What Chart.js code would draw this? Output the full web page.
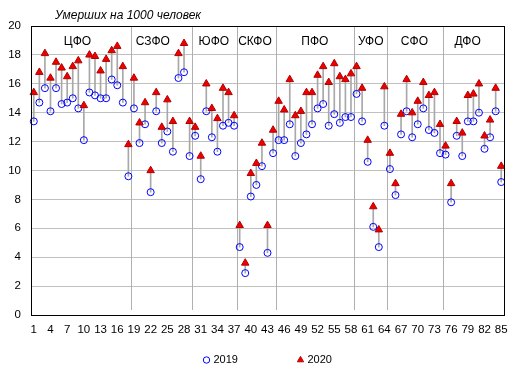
<!DOCTYPE html>
<html>
<head>
<meta charset="utf-8">
<script src="https://cdn.jsdelivr.net/npm/chart.js@4/dist/chart.umd.min.js"></script>
<style>
  html, body { margin: 0; padding: 0; background: #fff; }
</style>
</head>
<body>
<canvas id="myChart" width="519" height="376"></canvas>
<script>
'use strict';

// region numbers along the x axis (1..85)
const regions = Array.from({ length: 85 }, (_, i) => String(i + 1));

// deaths per 1000 people
const deaths2019 = [
  13.4, 14.7, 15.7, 14.1, 15.7, 14.6, 14.7, 15.0, 14.3, 12.1, 15.4, 15.2, 15.0, 15.0, 16.3, 15.9, 14.7, 9.6,
  14.3, 11.9, 13.2, 8.5, 14.1, 11.9, 12.7, 11.3, 16.4, 16.8, 11.0,
  12.4, 9.4, 14.1, 12.3, 11.3, 13.1, 13.3, 13.1,
  4.7, 2.9, 8.2, 9.0, 10.3, 4.3, 11.2,
  12.1, 12.1, 13.2, 11.0, 11.9, 12.5, 13.2, 14.3, 14.6, 13.1, 13.9, 13.3, 13.7, 13.7,
  15.3, 13.4, 10.6, 6.1, 4.7, 13.1,
  10.1, 8.3, 12.5, 14.1, 12.3, 13.2, 14.3, 12.8, 12.6, 11.2,
  11.1, 7.8, 12.4, 11.0, 13.4, 13.4, 14.0, 11.5, 12.3, 14.1, 9.2
];

const deaths2020 = [
  15.4, 16.8, 18.1, 16.4, 17.5, 17.1, 16.5, 17.2, 17.6, 14.5, 18.0, 17.9, 16.9, 17.7, 18.3, 18.6, 17.2, 11.8,
  16.4, 13.3, 14.7, 10.0, 15.4, 13.0, 14.9, 13.4, 18.1, 18.8, 13.4,
  13.0, 11.0, 16.0, 14.3, 13.6, 15.7, 15.4, 13.8,
  6.2, 3.6, 9.8, 10.5, 11.9, 6.2, 12.8,
  14.8, 14.2, 16.3, 13.8, 14.1, 15.4, 15.4, 16.6, 17.2, 16.1, 17.4, 16.5, 16.3, 16.7,
  17.2, 15.7, 12.1, 7.5, 5.9, 15.8,
  11.2, 9.1, 13.9, 16.3, 14.0, 14.8, 16.1, 15.2, 15.4, 13.2,
  11.7, 9.1, 13.4, 12.6, 15.2, 15.3, 16.0, 12.4, 13.5, 15.7, 10.3
];

// federal districts, in region order
const districtNames = ['ЦФО', 'СЗФО', 'ЮФО', 'СКФО', 'ПФО', 'УФО', 'СФО', 'ДФО'];
const districtSizes = [18, 11, 8, 7, 14, 6, 10, 11];

const seriesNames = ['2019', '2020'];
const yMin = 0;
const yMax = 20;
const yStep = 2;

const chartTitle = 'Умерших на 1000 человек';
const chartFont = 'Arial, "Liberation Sans", sans-serif';

// vertical district separators + district names
const districtPlugin = {
  id: 'districts',
  beforeDatasetsDraw(chart, args, opts) {
    const { ctx, chartArea: area, scales: { x } } = chart;
    ctx.save();
    ctx.strokeStyle = opts.lineColor;
    ctx.lineWidth = 1;
    ctx.fillStyle = '#000';
    ctx.font = '12px ' + chartFont;
    ctx.textAlign = 'center';
    ctx.textBaseline = 'middle';
    let start = 0;
    districtSizes.forEach((size, i) => {
      if (start > 0) {
        const px = Math.round((x.getPixelForValue(start - 1) + x.getPixelForValue(start)) / 2) + 0.5;
        ctx.beginPath();
        ctx.moveTo(px, area.top);
        ctx.lineTo(px, area.bottom - 5);
        ctx.stroke();
      }
      // label anchor is an index inside the district
      ctx.fillText(districtNames[i], x.getPixelForValue(opts.labelAt[i]), area.top + 16);
      start += size;
    });
    ctx.restore();
  },
  afterDraw(chart) {
    const { ctx, chartArea: area } = chart;
    ctx.save();
    // black frame round the plot
    ctx.strokeStyle = '#000';
    ctx.lineWidth = 1;
    ctx.strokeRect(Math.round(area.left) + 0.5, Math.round(area.top) + 0.5,
      Math.round(area.right - area.left), Math.round(area.bottom - area.top));

    // title
    ctx.fillStyle = '#000';
    ctx.font = 'italic 12px ' + chartFont;
    ctx.textAlign = 'left';
    ctx.textBaseline = 'middle';
    ctx.fillText(chartTitle, area.left + 24, 16);

    // legend
    const cx = (area.left + area.right) / 2;
    const items = [
      { ds: chart.data.datasets[1], x: cx - 61 },
      { ds: chart.data.datasets[2], x: cx + 33 }
    ];
    const ly = 360;
    ctx.font = '11px ' + chartFont;
    items.forEach(item => {
      ctx.fillStyle = item.ds.backgroundColor;
      ctx.strokeStyle = item.ds.borderColor;
      ctx.lineWidth = 1;
      Chart.helpers.drawPoint(ctx, {
        pointStyle: item.ds.pointStyle,
        radius: item.ds.pointStyle === 'triangle' ? 3.6 : 3.2,
        borderWidth: 1,
        rotation: 0
      }, item.x, ly);
      ctx.fillStyle = '#000';
      ctx.fillText(item.ds.label, item.x + 7, ly);
    });
    ctx.restore();
  }
};

const ctx = document.getElementById('myChart');
const myChart = new Chart(ctx, {
  type: 'bar',
  data: {
    labels: regions,
    datasets: [
      {
        // grey drop lines between the two years
        type: 'bar',
        label: 'diff',
        data: deaths2019.map((v, i) => [v, deaths2020[i]]),
        backgroundColor: '#a8a8a8',
        barThickness: 1,
        order: 3
      },
      {
        type: 'line',
        label: seriesNames[0],
        data: deaths2019,
        showLine: false,
        pointStyle: 'circle',
        pointRadius: 3.5,
        pointBorderWidth: 1,
        borderColor: '#0000ff',
        backgroundColor: 'rgba(255,255,255,0)',
        order: 2
      },
      {
        type: 'line',
        label: seriesNames[1],
        data: deaths2020,
        showLine: false,
        pointStyle: 'triangle',
        pointRadius: 4.3,
        pointBorderWidth: 1,
        borderColor: '#b00000',
        backgroundColor: '#ee0000',
        order: 1
      }
    ]
  },
  options: {
    responsive: false,
    animation: false,
    devicePixelRatio: 1,
    layout: { padding: { left: 0, right: 15, top: 26, bottom: 0 } },
    plugins: {
      legend: { display: false },
      tooltip: { enabled: false },
      districts: {
        lineColor: '#b0b0b0',
        labelAt: [7.85, 21.4, 32.35, 39.75, 50.5, 60.55, 68.4, 77.95]
      }
    },
    scales: {
      x: {
        offset: true,
        afterFit: scale => { scale.height = 61; },
        grid: { display: false, drawTicks: false },
        border: { display: false },
        ticks: {
          autoSkip: false,
          maxRotation: 0,
          minRotation: 0,
          padding: 8,
          color: '#000',
          font: { family: chartFont, size: 11.5 },
          callback: (value, index) => (index % 3 === 0 ? regions[index] : '')
        }
      },
      y: {
        min: yMin,
        max: yMax,
        afterFit: scale => { scale.width = 31; },
        grid: { color: '#c0c0c0', drawTicks: false },
        border: { display: false },
        ticks: {
          stepSize: yStep,
          padding: 10,
          color: '#000',
          font: { family: chartFont, size: 11.5 }
        }
      }
    }
  },
  plugins: [districtPlugin]
});
</script>
</body>
</html>
